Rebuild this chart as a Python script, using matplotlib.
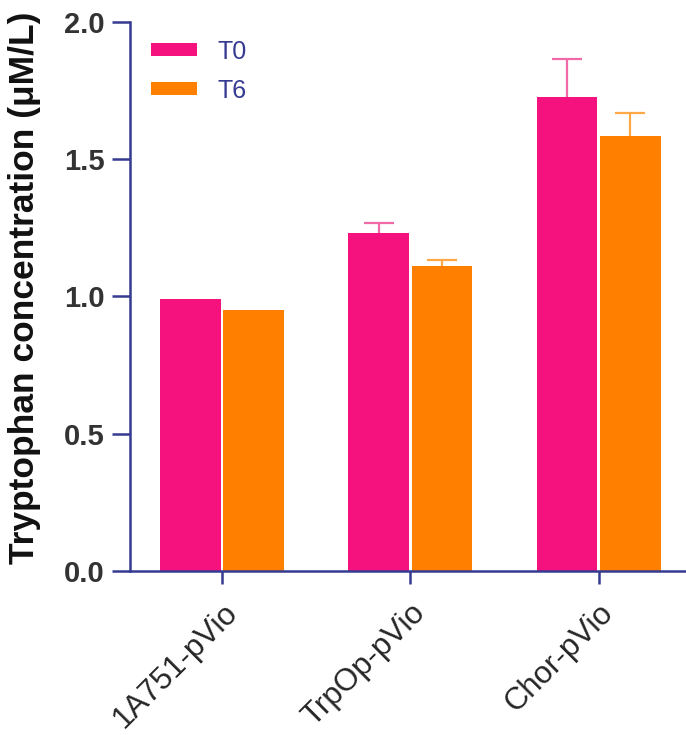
import numpy as np
import matplotlib
matplotlib.use("Agg")
import matplotlib.pyplot as plt

plt.rcParams['font.family'] = ['Liberation Sans', 'DejaVu Sans']

# 色氨酸浓度数据
strains = ["1A751-pVio", "TrpOp-pVio", "Chor-pVio"]
series = ["T0", "T6"]
t0_mean = [0.99, 1.230, 1.724]
t6_mean = [0.951, 1.111, 1.582]
t0_err = [0.0, 0.038, 0.141]
t6_err = [0.0, 0.021, 0.086]

bar_colors = ["#f5127f", "#ff8000"]
err_colors = ["#f06aa8", "#ffa848"]
axis_color = "#353b91"

fig = plt.figure(figsize=(6.86, 7.35), dpi=100)
ax = fig.add_axes([0.1895, 0.2231, 0.8105, 0.7476])

x = np.arange(len(strains))
width = 0.323
offset = 0.168

for i, (means, errs) in enumerate([(t0_mean, t0_err), (t6_mean, t6_err)]):
    pos = x + (i * 2 - 1) * offset
    ax.bar(pos, means, width=width, color=bar_colors[i], edgecolor="none",
           label=series[i], zorder=2)
    # 误差线放在柱子后面，只露出上半部分
    errs = np.array(errs)
    m = errs > 0
    ax.errorbar(pos[m], np.array(means)[m], yerr=errs[m],
                fmt="none", ecolor=err_colors[i], elinewidth=1.6,
                capsize=11, capthick=1.6, zorder=1)

ax.set_xlim(-0.49, 2.465)
ax.set_ylim(0, 2.0)
ax.set_yticks([0, 0.5, 1.0, 1.5, 2.0])
ax.set_yticklabels(["0.0", "0.5", "1.0", "1.5", "2.0"])
ax.set_xticks(x)
ax.set_xticklabels(strains, rotation=45, ha="right", va="top",
                   rotation_mode="anchor", fontsize=22.5, color="#262626")

for lab in ax.get_yticklabels():
    lab.set_fontsize(21)
    lab.set_fontweight("bold")
    lab.set_color("#333333")

for s in ["top", "right"]:
    ax.spines[s].set_visible(False)
for s in ["left", "bottom"]:
    ax.spines[s].set_color(axis_color)
    ax.spines[s].set_linewidth(1.8)
ax.tick_params(axis="y", color=axis_color, width=1.8, length=13, pad=5)
ax.tick_params(axis="x", color=axis_color, width=1.8, length=9, pad=10)

ax.set_ylabel("Tryptophan concentration (\u03bcM/L)", fontsize=25.5,
              fontweight="bold", color="#111111")
ax.yaxis.set_label_coords(-0.16, 0.515)

leg = ax.legend(loc="upper left", bbox_to_anchor=(0.015, 0.99), frameon=False,
                fontsize=18, handlelength=1.85, handleheight=0.45,
                handletextpad=0.8, labelspacing=0.6, borderpad=0)
for t in leg.get_texts():
    t.set_color(axis_color)

fig.savefig("out.png", dpi=100)
